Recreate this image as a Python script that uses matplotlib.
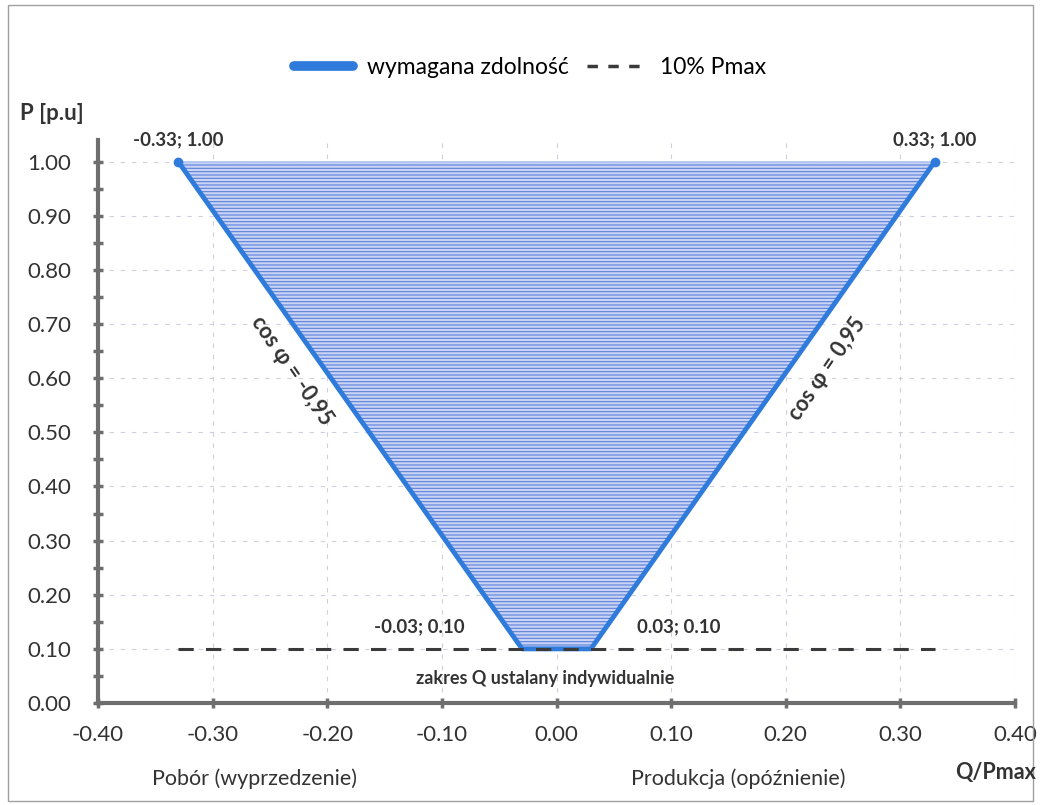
import numpy as np
import matplotlib.pyplot as plt
from matplotlib.patches import Rectangle
from matplotlib.lines import Line2D

plt.rcParams['font.family'] = ['Lato', 'DejaVu Sans']
plt.rcParams['hatch.linewidth'] = 0.8

# capability curve: Q/Pmax vs P
q_curve = [-0.33, -0.03, 0.03, 0.33]
p_curve = [1.00, 0.10, 0.10, 1.00]
# 10% Pmax line
q_min = [-0.33, 0.33]
p_min = [0.10, 0.10]

x_ticks = np.round(np.arange(-0.4, 0.41, 0.1), 2)
y_ticks = np.round(np.arange(0.0, 1.01, 0.1), 2)

point_labels = ["-0.33; 1.00", "-0.03; 0.10", "0.03; 0.10", "0.33; 1.00"]

blue = "#2f7bdc"
dark = "#3a3a3a"
txt = "#333333"


def fmt(v):
    return f"{abs(v) if abs(v) < 1e-9 else v:.2f}"


W, H = 1041, 805
fig = plt.figure(figsize=(W / 100, H / 100), dpi=100)
fig.patch.set_facecolor("white")
ax = fig.add_axes([98 / W, 1 - 703 / H, (1015 - 98) / W, (703 - 140) / H])

# hatched area
ax.fill(q_curve, p_curve, facecolor="#c9d4f2", edgecolor="#5b7fe0",
        hatch="-----", linewidth=0, zorder=2)

ax.plot(q_curve, p_curve, color=blue, linewidth=3.5, solid_capstyle="round",
        zorder=3)
ax.plot([q_curve[0], q_curve[-1]], [p_curve[0], p_curve[-1]], "o",
        color=blue, markersize=6, zorder=4)
ax.plot(q_min, p_min, color=dark, linewidth=2.2, dashes=(5, 4), zorder=5)

ax.set_xlim(-0.4, 0.4)
ax.set_ylim(0, 1.04)
ax.set_xticks(x_ticks)
ax.set_yticks(y_ticks)
ax.set_yticks(np.round(np.arange(0.05, 1.0, 0.1), 2), minor=True)
ax.set_xticklabels([fmt(v) for v in x_ticks], fontsize=16, color=txt)
ax.set_yticklabels([fmt(v) for v in y_ticks], fontsize=16, color=txt)
ax.tick_params(axis="both", which="both", direction="inout", length=7,
               width=2.5, color="#6e6e6e")
ax.tick_params(axis="x", pad=12)
ax.tick_params(axis="y", pad=16)

ax.grid(True, which="major", color="#cfcfe0", linestyle=(0, (4, 6)),
        linewidth=0.8, zorder=0)
for s in ["top", "right"]:
    ax.spines[s].set_visible(False)
for s in ["left", "bottom"]:
    ax.spines[s].set_color("#6e6e6e")
    ax.spines[s].set_linewidth(3)

# point labels
offsets = [(0.0, 0.04), (-0.09, 0.04), (0.077, 0.04), (0.0, 0.04)]
for q, p, lab, (dx, dy) in zip(q_curve, p_curve, point_labels, offsets):
    ax.text(q + dx, p + dy, lab, ha="center", va="center", fontsize=13.5,
            fontweight="bold", color=txt, zorder=6)

ax.text(-0.01, 0.046, "zakres Q ustalany indywidualnie", ha="center",
        va="center", fontsize=13, fontweight="bold", color=txt)

ax.text(-0.231, 0.614, "cos φ = -0,95", rotation=-55.5, ha="center",
        va="center", fontsize=15.5, fontweight="bold", color=txt,
        rotation_mode="anchor")
ax.text(0.236, 0.618, "cos φ = 0,95", rotation=55.5, ha="center",
        va="center", fontsize=15.5, fontweight="bold", color=txt,
        rotation_mode="anchor")

# axis titles
fig.text(20 / W, 1 - 113 / H, "P [p.u]", fontsize=16, fontweight="bold",
         color=txt, va="center", ha="left")
fig.text(1036 / W, 1 - 772 / H, "Q/Pmax", fontsize=15.5, fontweight="bold",
         color=txt, va="center", ha="right")
fig.text(255 / W, 1 - 779 / H, "Pobór (wyprzedzenie)", fontsize=15.5,
         color=txt, va="center", ha="center")
fig.text(738 / W, 1 - 779 / H, "Produkcja (opóźnienie)", fontsize=15.5,
         color=txt, va="center", ha="center")

handles = [Line2D([], [], color=blue, linewidth=7, solid_capstyle="round"),
           Line2D([], [], color=dark, linewidth=2.5, dashes=(3, 3))]
fig.legend(handles, ["wymagana zdolność", "10% Pmax"], loc="center",
           bbox_to_anchor=(530 / W, 1 - 68 / H), ncol=2, frameon=False,
           fontsize=16.5, handlelength=2.6, columnspacing=0.8,
           handletextpad=0.6)

fig.add_artist(Rectangle((8 / W, 4 / H), (1033 - 8) / W, (800 - 4) / H,
                         transform=fig.transFigure, fill=False,
                         edgecolor="#a0a0a0", linewidth=1))

fig.savefig("out.png", dpi=100)
